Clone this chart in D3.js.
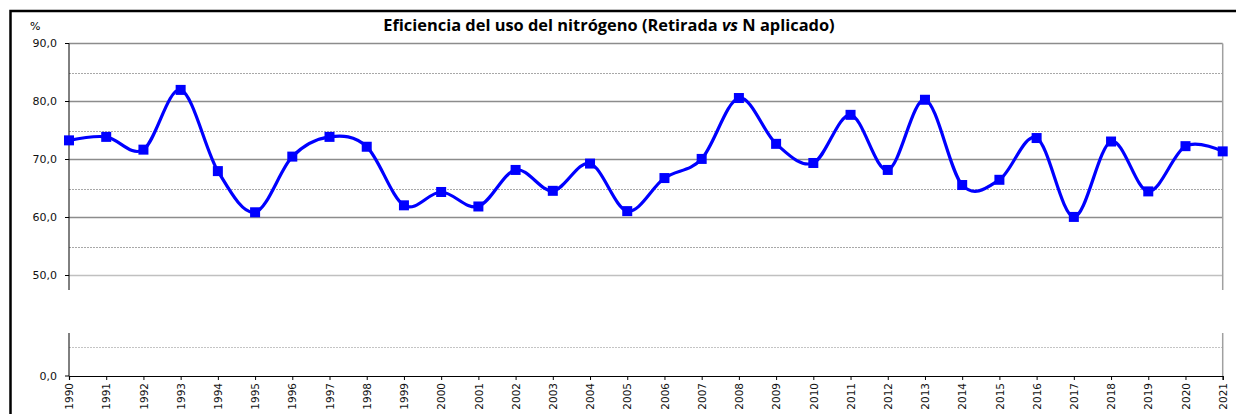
<!DOCTYPE html>
<html><head><meta charset="utf-8">
<script src="https://cdn.jsdelivr.net/npm/d3@7"></script>
<style>body{margin:0;background:#fff}svg{display:block}</style>
</head><body>
<svg id="c" width="1236" height="414"></svg>
<script>
const years = d3.range(1990, 2022).map(String);
const values = [73.3,73.9,71.7,82.0,68.0,60.9,70.5,73.9,72.2,62.1,64.4,61.9,68.2,64.6,69.3,61.1,66.8,70.1,80.6,72.7,69.4,77.7,68.2,80.3,65.6,66.5,73.7,60.1,73.1,64.5,72.3,71.4];
const majorTicks = [90,80,70,60,50];
const minorTicks = [85,75,65,55];
const lowerTicks = [0];
const lowerMinor = [5];
const title = ["Eficiencia del uso del nitrógeno (Retirada ", "vs", " N aplicado)"];
const unit = "%";

const svg = d3.select("#c");
const L = 69, R = 1222.7;
const x = d3.scalePoint().domain(years).range([L, R]);
const yT = d3.scaleLinear().domain([47.5, 90]).range([290, 43.5]);
const yB = d3.scaleLinear().domain([0, 7.4]).range([376, 333]);
const fmt = v => d3.format(".1f")(v).replace(".", ",");

// outer frame
svg.append("rect").attr("x",10.5).attr("y",11).attr("width",1300).attr("height",500)
  .attr("fill","none").attr("stroke","#000").attr("stroke-width",2.5);

// title
const t = svg.append("text").attr("x",609).attr("y",30.5).attr("text-anchor","middle")
  .style("font-family","'Open Sans', sans-serif").style("font-weight","bold").style("font-size","16.4px").attr("fill","#000");
t.append("tspan").text(title[0]);
t.append("tspan").style("font-style","italic").text(title[1]);
t.append("tspan").text(title[2]);

svg.append("text").attr("x",30).attr("y",30).text(unit)
  .style("font-family","'DejaVu Sans', sans-serif").style("font-size","11px").attr("fill","#000");

// gridlines
const g = svg.append("g");
g.selectAll(".mn").data(minorTicks).join("line").attr("x1",L).attr("x2",R)
  .attr("y1",d=>Math.round(yT(d))+0.5).attr("y2",d=>Math.round(yT(d))+0.5)
  .attr("stroke","#a8a8a8").attr("stroke-width",1).attr("stroke-dasharray","2,1");
g.selectAll(".mnb").data(lowerMinor).join("line").attr("x1",L).attr("x2",R)
  .attr("y1",d=>Math.round(yB(d))+0.5).attr("y2",d=>Math.round(yB(d))+0.5)
  .attr("stroke","#c4c4c4").attr("stroke-width",1).attr("stroke-dasharray","2,1");
g.selectAll(".mj").data(majorTicks).join("line").attr("x1",L).attr("x2",R)
  .attr("y1",d=>yT(d)).attr("y2",d=>yT(d))
  .attr("stroke",d=>d===50?"#c0c0c0":"#8c8c8c").attr("stroke-width",d=>d===50?1.6:1.3);

// right border of plot
[[yT(90), yT(47.5)], [yB(7.4), yB(0)]].forEach(([a,b]) => {
  svg.append("line").attr("x1",R).attr("x2",R).attr("y1",a).attr("y2",b)
    .attr("stroke","#a0a0a0").attr("stroke-width",1.5);
});

// left axis (broken)
[[yT(90), yT(47.5)], [yB(7.4), yB(0)]].forEach(([a,b]) => {
  svg.append("line").attr("x1",L).attr("x2",L).attr("y1",a).attr("y2",b)
    .attr("stroke","#000").attr("stroke-width",1);
});
const yLab = svg.append("g").style("font-family","'DejaVu Sans', sans-serif").style("font-size","11px");
majorTicks.forEach(v => {
  yLab.append("line").attr("x1",L-4).attr("x2",L).attr("y1",yT(v)).attr("y2",yT(v)).attr("stroke","#000");
  yLab.append("text").attr("x",57).attr("y",yT(v)).attr("dy","0.35em").attr("text-anchor","end").text(fmt(v)).attr("fill","#111");
});
lowerTicks.forEach(v => {
  yLab.append("line").attr("x1",L-4).attr("x2",L).attr("y1",yB(v)).attr("y2",yB(v)).attr("stroke","#000");
  yLab.append("text").attr("x",57).attr("y",yB(v)).attr("dy","0.35em").attr("text-anchor","end").text(fmt(v)).attr("fill","#111");
});

// x axis
const xa = svg.append("g").attr("transform",`translate(0,${yB(0)})`)
  .call(d3.axisBottom(x).tickSize(4).tickPadding(0));
xa.select(".domain").attr("stroke","#000").attr("stroke-width",1.2);
xa.selectAll(".tick line").attr("stroke","#000");
xa.selectAll(".tick text").attr("transform","translate(0,7) rotate(-90)")
  .attr("text-anchor","end").attr("dy","0.35em").attr("x",0).attr("y",0)
  .style("font-family","'DejaVu Sans', sans-serif").style("font-size","10.5px").attr("fill","#111");

// line
const line = d3.line().x((d,i)=>x(years[i])).y(d=>yT(d)).curve(d3.curveCatmullRom.alpha(0));
svg.append("path").datum(values).attr("d",line).attr("fill","none")
  .attr("stroke","#0000ff").attr("stroke-width",3.2);
const s = 10;
svg.selectAll(".mk").data(values).join("rect")
  .attr("x",(d,i)=>x(years[i])-s/2).attr("y",d=>yT(d)-s/2)
  .attr("width",s).attr("height",s).attr("fill","#0000ff");
</script>
</body></html>
